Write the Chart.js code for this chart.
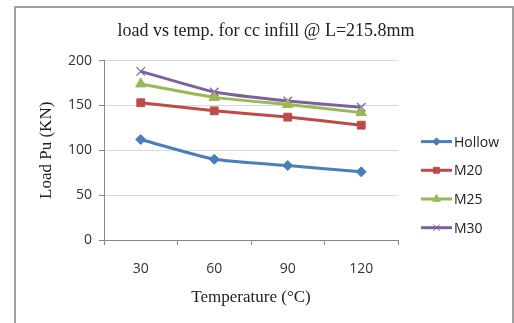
<!DOCTYPE html>
<html>
<head>
<meta charset="utf-8">
<script src="https://cdn.jsdelivr.net/npm/chart.js@4"></script>
<style>
  html, body { margin: 0; padding: 0; background: #fff; }
  #wrap { position: relative; width: 514px; height: 323px; }
</style>
</head>
<body>
<div id="wrap"><canvas id="chart"></canvas></div>
<script>
// データ
const temperatures = ['30', '60', '90', '120'];
const hollow = [112, 90, 83, 76];
const m20 = [153, 144, 137, 128];
const m25 = [174, 159, 151, 142];
const m30 = [188, 165, 155, 148];
const seriesNames = ['Hollow', 'M20', 'M25', 'M30'];

const colors = ['#4a7ebb', '#be4b48', '#98b954', '#7d60a0'];
const markers = ['rectRot', 'rect', 'triangle', 'crossRot'];
const markerSizes = [5, 5.5, 6, 6];

const sansFont = '"Open Sans", "Liberation Sans", sans-serif';
const serifFont = '"Liberation Serif", serif';

// 外枠
const framePlugin = {
    id: 'frame',
    beforeDraw(chart) {
        const ctx = chart.ctx;
        ctx.save();
        ctx.strokeStyle = '#a0a0a0';
        ctx.lineWidth = 2;
        ctx.beginPath();
        ctx.moveTo(15, 330);
        ctx.lineTo(15, 7);
        ctx.lineTo(513, 7);
        ctx.lineTo(513, 330);
        ctx.stroke();
        ctx.restore();
    }
};

// 凡例（線＋マーカー）
const legendPlugin = {
    id: 'lineLegend',
    afterDraw(chart) {
        const c = chart.ctx;
        const area = chart.chartArea;
        const x0 = area.right + 23;
        c.save();
        chart.data.datasets.forEach((ds, i) => {
            const y = area.top + 81 + i * 28.7;
            c.strokeStyle = ds.borderColor;
            c.lineWidth = 3;
            c.beginPath();
            c.moveTo(x0, y);
            c.lineTo(x0 + 31, y);
            c.stroke();
            c.fillStyle = ds.borderColor;
            c.lineWidth = 1;
            Chart.helpers.drawPoint(c, {
                pointStyle: ds.pointStyle,
                radius: ds.pointRadius * 0.75,
                borderWidth: 1
            }, x0 + 15.5, y);
            c.fillStyle = '#222';
            c.font = '14px ' + sansFont;
            c.textBaseline = 'middle';
            c.textAlign = 'left';
            c.fillText(ds.label, x0 + 33, y + 1);
        });
        c.restore();
    }
};

const seriesData = [hollow, m20, m25, m30];
const datasets = seriesData.map((d, i) => ({
    label: seriesNames[i],
    data: d,
    yAxisID: 'y',
    borderColor: colors[i],
    backgroundColor: colors[i],
    pointBackgroundColor: colors[i],
    pointBorderColor: colors[i],
    pointStyle: markers[i],
    pointRadius: markerSizes[i],
    pointBorderWidth: markers[i] === 'crossRot' ? 1.2 : 1,
    borderWidth: 3,
    tension: 0.15,
    fill: false
}));

const ctx = document.getElementById('chart').getContext('2d');
new Chart(ctx, {
    type: 'line',
    data: { labels: temperatures, datasets: datasets },
    plugins: [framePlugin, legendPlugin],
    options: {
        responsive: true,
        maintainAspectRatio: false,
        animation: false,
        layout: { padding: { top: 14, left: 18, right: 0, bottom: 0 } },
        plugins: {
            legend: { display: false },
            tooltip: { enabled: false },
            title: {
                display: true,
                text: 'load vs temp. for cc infill @ L=215.8mm',
                color: '#222',
                font: { family: serifFont, size: 18, weight: 'normal' },
                padding: { top: 6, bottom: 19 }
            }
        },
        scales: {
            x: {
                offset: true,
                afterFit(scale) { scale.height = 83; },
                grid: {
                    offset: true,
                    drawOnChartArea: false,
                    tickLength: 5,
                    color: '#888'
                },
                border: { color: '#888', width: 1 },
                ticks: {
                    color: '#333',
                    padding: 16,
                    font: { family: sansFont, size: 14 }
                },
                title: {
                    display: true,
                    text: 'Temperature (°C)',
                    color: '#222',
                    font: { family: serifFont, size: 17 },
                    padding: { top: 0, bottom: 15 }
                }
            },
            y: {
                min: 0,
                max: 200,
                afterFit(scale) { scale.width = 86; },
                ticks: {
                    stepSize: 50,
                    color: '#333',
                    padding: 7,
                    font: { family: sansFont, size: 14 }
                },
                grid: {
                    color: '#d9d9d9',
                    tickLength: 5,
                    tickColor: '#888'
                },
                border: { color: '#888', width: 1 },
                title: {
                    display: true,
                    text: 'Load Pu (KN)',
                    color: '#222',
                    font: { family: serifFont, size: 17 },
                    padding: { top: 18, bottom: 0 }
                }
            },
            // 凡例用の余白
            legendSpace: {
                position: 'right',
                min: 0,
                max: 200,
                afterFit(scale) { scale.width = 116; },
                ticks: { display: false },
                grid: { display: false, drawOnChartArea: false },
                border: { display: false }
            }
        }
    }
});
</script>
</body>
</html>
